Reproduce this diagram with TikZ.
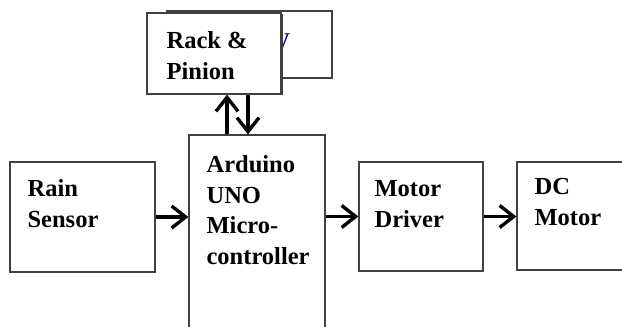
\documentclass[tikz,border=0pt]{standalone}
\usepackage{fontspec}
\setmainfont{Liberation Serif}
\usetikzlibrary{arrows.meta,positioning,shadows}
\tikzset{
      blockbox/.style={
        draw=black!75,
        line width=1.2pt,
        fill=white,
        inner sep=0pt
      },
      blocktext/.style={
        anchor=north west,
        align=left,
        inner sep=0pt,
        font=\fontsize{24.5}{30.5}\selectfont\bfseries
      },
      flow/.style={
        line width=3.4pt,
        color=black,
        -{Straight Barb[length=14pt,width=22pt]}
      }
    }
\begin{document}
\begin{tikzpicture}[x=1pt,y=1pt]
    \useasboundingbox (0,0) rectangle (622,-327);
    \clip (0,0) rectangle (622,-327);
    % hidden block behind the rack
    \node[blockbox, minimum width=165pt, minimum height=67pt] (disp) at (249.5,-44.5) {};
    \node[anchor=base west, inner sep=0pt, text=blue!60!black, font=\fontsize{32}{36}\selectfont] (dispy) at (274,-48) {y};
    \node[blockbox, minimum width=134pt, minimum height=81pt, drop shadow={shadow xshift=1.8pt, shadow yshift=-1.2pt, fill=black!75, opacity=1}] (rack) at (214,-53.5) {};
    \node[blocktext, below right=19pt and 20pt of rack.north west] (racktxt) {Rack \&\\Pinion};
    % main chain
    \node[blockbox, minimum width=145pt, minimum height=110pt] (rain) at (82.5,-217) {};
    \node[blocktext, below right=18pt and 18pt of rain.north west] (raintxt) {Rain\\Sensor};
    \node[blockbox, minimum width=136pt, minimum height=210pt] (micro) at (257,-240) {};
    \node[blocktext, below right=21pt and 18pt of micro.north west] (microtxt) {Arduino\\UNO\\Micro-\\controller};
    \node[blockbox, minimum width=124pt, minimum height=109pt] (driver) at (421,-216.5) {};
    \node[blocktext, below right=19pt and 16pt of driver.north west] (drivertxt) {Motor\\Driver};
    \node[blockbox, minimum width=123pt, minimum height=108pt] (dcmotor) at (578.5,-216) {};
    \node[blocktext, below right=17pt and 18pt of dcmotor.north west] (dctxt) {DC\\Motor};
    \draw[flow] (rain.east) -- (rain.east -| micro.west);
    \draw[flow] (micro.east |- driver.west) -- (driver.west);
    \draw[flow] (driver.east) -- (driver.east -| dcmotor.west);
    \draw[flow] ([xshift=13pt]rack.south |- micro.north) -- ([xshift=13pt]rack.south);
    \draw[flow] ([xshift=34pt]rack.south) -- ([xshift=34pt]rack.south |- micro.north);
    \end{tikzpicture}
\end{document}
